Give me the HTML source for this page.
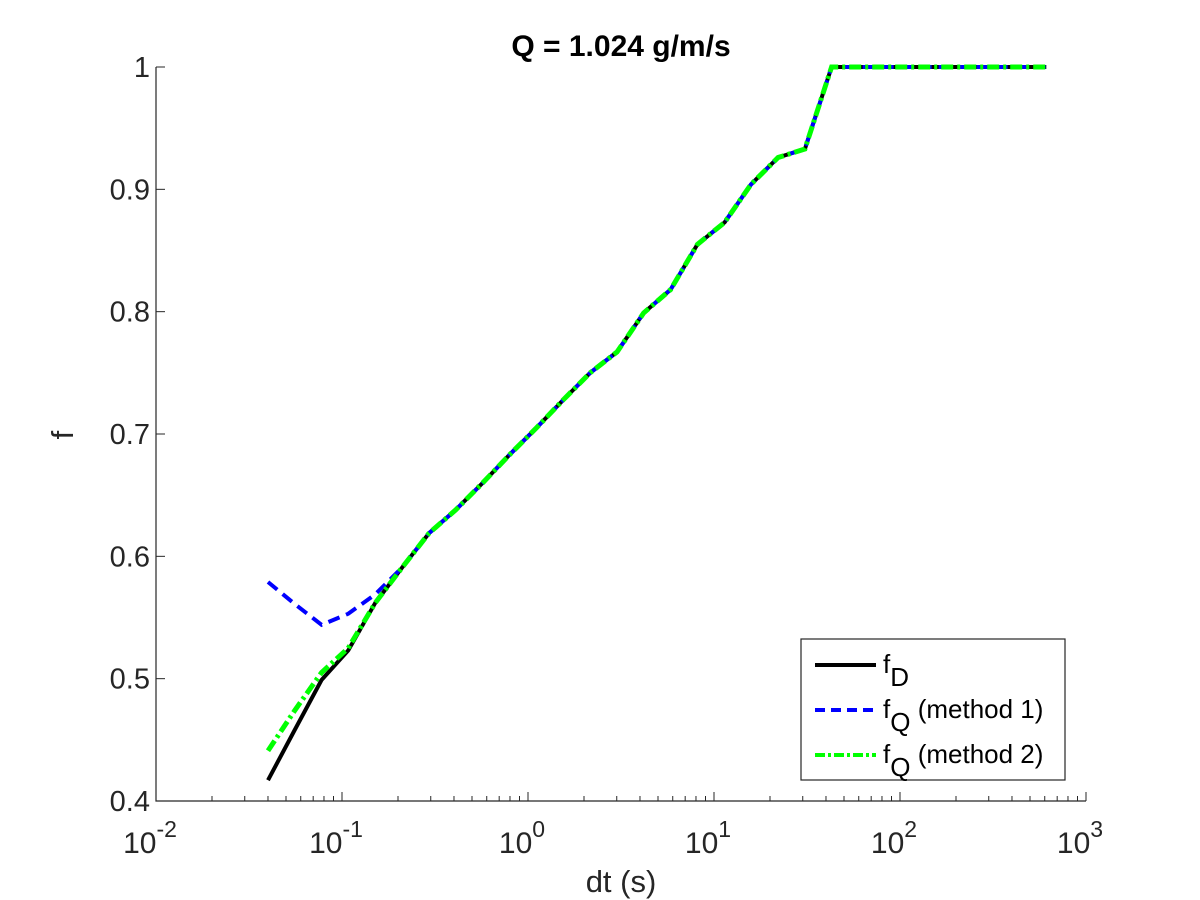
<!DOCTYPE html>
<html><head><meta charset="utf-8"><style>
body{margin:0;background:#fff;}
svg{display:block;font-family:"Liberation Sans",sans-serif;}
</style></head><body>
<svg id="chart" width="1200" height="900">
<rect width="1200" height="900" fill="#fff"/>
</svg>
<script>
const dtValues=[0.04,0.0557,0.0777,0.108,0.151,0.211,0.294,0.409,0.571,0.795,1.11,1.55,2.16,3.01,4.19,5.84,8.14,11.4,15.8,22.1,30.8,42.9,59.8,83.4,116,162,226,315,439,612];
const fD=[0.417,0.458,0.499,0.523,0.562,0.591,0.619,0.638,0.660,0.683,0.705,0.728,0.750,0.767,0.799,0.818,0.855,0.873,0.904,0.926,0.933,1,1,1,1,1,1,1,1,1];
const fQ1=[0.579,0.561,0.544,0.553,0.569,0.591,0.619,0.638,0.660,0.683,0.705,0.728,0.750,0.767,0.799,0.818,0.855,0.873,0.904,0.926,0.933,1,1,1,1,1,1,1,1,1];
const fQ2=[0.441,0.474,0.505,0.525,0.562,0.591,0.619,0.638,0.660,0.683,0.705,0.728,0.750,0.767,0.799,0.818,0.855,0.873,0.904,0.926,0.933,1,1,1,1,1,1,1,1,1];
const xTickExp=[-2,-1,0,1,2,3];
const yTicks=[0.4,0.5,0.6,0.7,0.8,0.9,1];
const yTickLabels=["0.4","0.5","0.6","0.7","0.8","0.9","1"];

const NS="http://www.w3.org/2000/svg";
const svg=document.getElementById('chart');
const L=156,R=1086,T=67,B=801;
const xS=v=>L+(Math.log10(v)+2)/5*(R-L);
const yS=v=>B-(v-0.4)/0.6*(B-T);
function mk(tag,attrs,parent){const e=document.createElementNS(NS,tag);for(const k in attrs)e.setAttribute(k,attrs[k]);(parent||svg).appendChild(e);return e;}

const ax=mk('path',{d:`M${L},${T}V${B}H${R}`,fill:'none',stroke:'#262626','stroke-width':1.2});


xTickExp.forEach(e=>{
  const x=xS(Math.pow(10,e));
  const t=mk('line',{x1:x,x2:x,y1:B,y2:B-9,stroke:'#262626','stroke-width':1});
  
  
  const lab=mk('text',{x:x-6,y:B+52,'font-size':30,fill:'#262626','text-anchor':'middle'});
  
  
  lab.textContent='10';
  const sup=mk('tspan',{dy:-16,'font-size':23},lab);
  sup.textContent=String(e);
  if(e<3){for(let m=2;m<=9;m++){const xm=xS(m*Math.pow(10,e));
    const mt=mk('line',{x1:xm,x2:xm,y1:B,y2:B-5,stroke:'#262626','stroke-width':1});
    
    }}
});
yTicks.forEach((v,i)=>{
  const y=yS(v);
  const t=mk('line',{x1:L,x2:L+9,y1:y,y2:y,stroke:'#262626','stroke-width':1});
  
  
  const lab=mk('text',{x:L-6,y:y+10,'font-size':29,fill:'#262626','text-anchor':'end'});
  
  
  lab.textContent=yTickLabels[i];
});
const xl=mk('text',{x:621,y:892,'font-size':31,fill:'#262626','text-anchor':'middle'});


xl.textContent='dt (s)';
const yl=mk('text',{x:73,y:435,'font-size':31,fill:'#262626','text-anchor':'middle',transform:'rotate(-90 73 435)'});


yl.textContent='f';
const ti=mk('text',{x:621,y:56,'font-size':30,'font-weight':'bold',fill:'#000','text-anchor':'middle'});


ti.textContent='Q = 1.024 g/m/s';

function pts(arr){return arr.map((v,i)=>`${xS(dtValues[i]).toFixed(1)},${yS(v).toFixed(1)}`).join(' ');}
const s1=mk('polyline',{points:pts(fD),fill:'none',stroke:'#000','stroke-width':4});


const s2=mk('polyline',{points:pts(fQ1),fill:'none',stroke:'#0000ff','stroke-width':4,'stroke-dasharray':'12,7'});


const s3=mk('polyline',{points:pts(fQ2),fill:'none',stroke:'#00ff00','stroke-width':5,'stroke-dasharray':'12,4,3,4'});



const lg=mk('g',{});


mk('rect',{x:801,y:639,width:264,height:141,fill:'#fff',stroke:'#262626','stroke-width':1.2},lg);
const entries=[['#000','none',4,'D',''],['#0000ff','10,6',4,'Q',' (method 1)'],['#00ff00','10,3,3,3',4,'Q',' (method 2)']];
entries.forEach((en,i)=>{
  const y=665+i*45;
  const g=mk('g',{},lg);
  
  
  const ln=mk('line',{x1:815,x2:876,y1:y,y2:y,stroke:en[0],'stroke-width':en[2]},g);
  if(en[1]!=='none')ln.setAttribute('stroke-dasharray',en[1]);
  const tx=mk('text',{x:883,y:y+8,'font-size':26,fill:'#000'},g);
  tx.textContent='f';
  const sb=mk('tspan',{dy:13},tx);sb.textContent=en[3];
  if(en[4]){const r=mk('tspan',{dy:-13},tx);r.textContent=en[4];}
});
</script>
</body></html>
